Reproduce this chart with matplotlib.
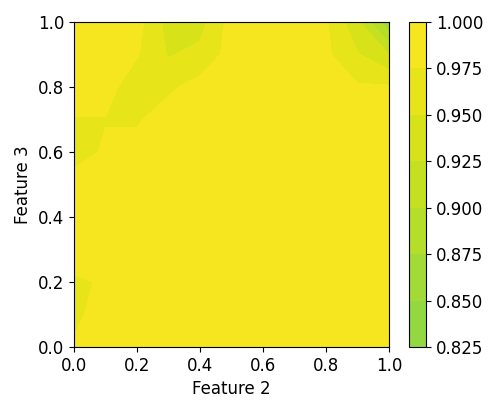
import numpy as np
import matplotlib
matplotlib.use("Agg")
import matplotlib.pyplot as plt

# grid coordinates (Feature 2 along x, Feature 3 along y)
feature2 = [0.0, 0.1, 0.2, 0.3, 0.4, 0.5, 0.6, 0.7, 0.8, 0.9, 1.0]
feature3 = [0.0, 0.1, 0.2, 0.3, 0.4, 0.5, 0.6, 0.7, 0.8, 0.9, 1.0]

# score values, one row per Feature 3 value (bottom row first)
score = [
    [0.978, 0.985, 0.988, 0.990, 0.991, 0.990, 0.989, 0.990, 0.991, 0.990, 0.989],  # 0.0
    [0.970, 0.985, 0.988, 0.990, 0.991, 0.991, 0.990, 0.990, 0.991, 0.990, 0.989],  # 0.1
    [0.972, 0.977, 0.986, 0.989, 0.990, 0.991, 0.990, 0.990, 0.990, 0.989, 0.988],  # 0.2
    [0.985, 0.987, 0.988, 0.989, 0.990, 0.990, 0.990, 0.990, 0.990, 0.989, 0.988],  # 0.3
    [0.986, 0.987, 0.988, 0.989, 0.990, 0.990, 0.991, 0.990, 0.990, 0.989, 0.988],  # 0.4
    [0.985, 0.986, 0.987, 0.989, 0.990, 0.990, 0.990, 0.990, 0.989, 0.988, 0.988],  # 0.5
    [0.965, 0.978, 0.985, 0.988, 0.989, 0.990, 0.990, 0.989, 0.989, 0.988, 0.987],  # 0.6
    [0.974, 0.974, 0.972, 0.988, 0.989, 0.989, 0.989, 0.989, 0.988, 0.987, 0.990],  # 0.7
    [0.985, 0.985, 0.960, 0.970, 0.985, 0.988, 0.988, 0.988, 0.990, 0.978, 0.978],  # 0.8
    [0.985, 0.985, 0.977, 0.948, 0.957, 0.985, 0.987, 0.986, 0.980, 0.952, 0.925],  # 0.9
    [0.985, 0.985, 0.985, 0.940, 0.940, 0.985, 0.986, 0.985, 0.978, 0.930, 0.855],  # 1.0
]

levels = [0.825, 0.850, 0.875, 0.900, 0.925, 0.950, 0.975, 1.000]

fig = plt.figure(figsize=(5.0, 4.09), dpi=100)
ax = fig.add_axes([0.148, 0.1516, 0.63, 0.7946])
cax = fig.add_axes([0.818, 0.1516, 0.034, 0.7946])

X, Y = np.meshgrid(feature2, feature3)
cs = ax.contourf(X, Y, np.array(score), levels=levels, cmap="viridis", vmin=0.0, vmax=1.0)

ax.set_xlim(0, 1)
ax.set_ylim(0, 1)
ax.set_xticks([0.0, 0.2, 0.4, 0.6, 0.8, 1.0])
ax.set_yticks([0.0, 0.2, 0.4, 0.6, 0.8, 1.0])
ax.tick_params(labelsize=12)
ax.set_xlabel("Feature 2", fontsize=12)
ax.set_ylabel("Feature 3", fontsize=12)

cb = fig.colorbar(cs, cax=cax)
cb.set_ticks(levels)
cb.ax.set_yticklabels([f"{v:.3f}" for v in levels])
cb.ax.tick_params(labelsize=12)

fig.savefig("out.png", dpi=100)
